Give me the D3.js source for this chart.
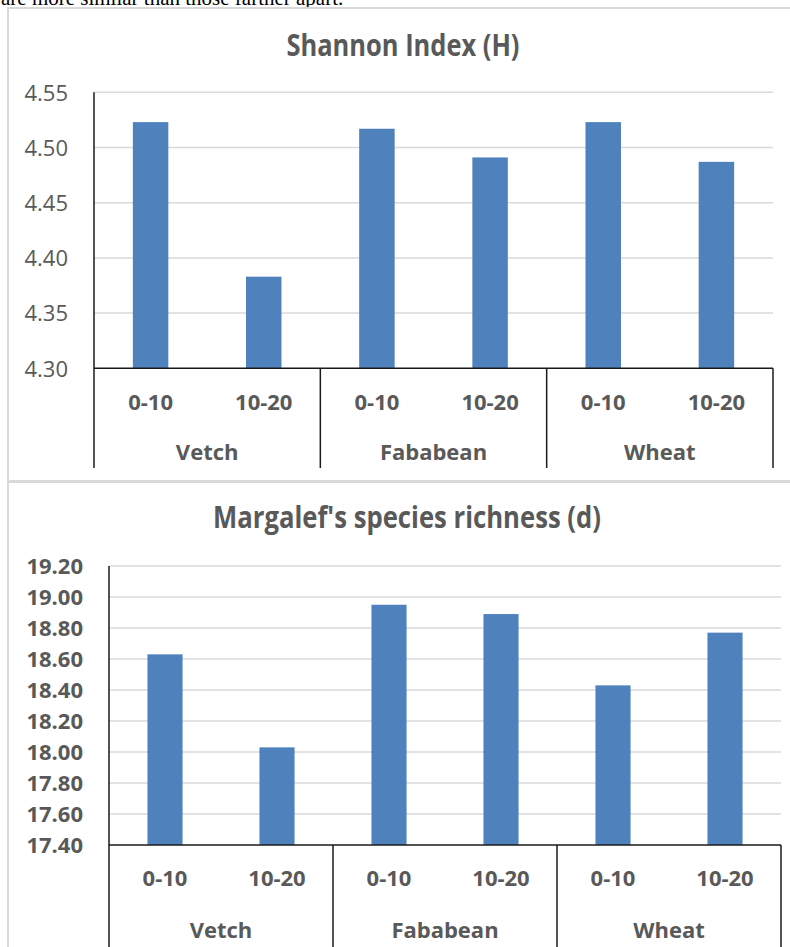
<!DOCTYPE html>
<html><head><meta charset="utf-8">
<script src="https://cdn.jsdelivr.net/npm/d3@7"></script>
<style>
html,body{margin:0;padding:0;background:#fff;}
svg{display:block;}
</style></head>
<body>
<svg id="c" width="790" height="947"></svg>
<script>
// ---------- data ----------
const introText = "are more similar than those farther apart.";
const depths = ["0-10", "10-20", "0-10", "10-20", "0-10", "10-20"];
const crops = ["Vetch", "Fababean", "Wheat"];
const shannonTitle = "Shannon Index (H)";
const shannonValues = [4.523, 4.383, 4.517, 4.491, 4.523, 4.487];
const shannonTicks = [4.30, 4.35, 4.40, 4.45, 4.50, 4.55];
const margalefTitle = "Margalef's species richness (d)";
const margalefValues = [18.63, 18.03, 18.95, 18.89, 18.43, 18.77];
const margalefTicks = [17.40, 17.60, 17.80, 18.00, 18.20, 18.40, 18.60, 18.80, 19.00, 19.20];

// ---------- styles ----------
const FONT = "'Open Sans', Calibri, sans-serif";
const TXT = "#595959";
const BAR = "#4f81bd";
const GRID = "#d9d9d9";
const AXIS = "#1a1a1a";

const svg = d3.select("#c");

// partial line of body text at top (cut off, as in the source page)
svg.append("text").attr("x", 1).attr("y", 5)
  .attr("font-family", "'Liberation Serif', 'Times New Roman', serif")
  .attr("font-size", 21).attr("fill", "#000")
  .text(introText);

function fitText(sel, w) {
  sel.attr("textLength", w).attr("lengthAdjust", "spacingAndGlyphs");
}

function drawChart(o) {
  const g = svg.append("g");
  g.append("rect").attr("x", o.panel[0]).attr("y", o.panel[1])
    .attr("width", o.panel[2]).attr("height", o.panel[3])
    .attr("fill", "#fff").attr("stroke", GRID).attr("stroke-width", 2);

  const y = d3.scaleLinear().domain(o.domain).range([o.y0, o.y1]);
  const x = d3.scaleBand().domain(d3.range(o.values.length)).range([o.x0, o.x1]).padding(0);
  const step = x.step();
  const bw = step / 3.19;

  const t = g.append("text").attr("x", o.titleX).attr("y", o.titleY)
    .attr("text-anchor", "middle").attr("font-family", FONT).attr("font-weight", 700)
    .attr("font-size", 31).attr("fill", TXT).text(o.title);
  fitText(t, o.titleW);

  g.append("g").selectAll("line").data(o.ticks.filter(d => d !== o.domain[0])).join("line")
    .attr("x1", o.x0).attr("x2", o.x1)
    .attr("y1", d => y(d)).attr("y2", d => y(d))
    .attr("stroke", GRID).attr("stroke-width", 1.5);

  const ya = g.append("g").attr("transform", `translate(${o.x0},0)`)
    .call(d3.axisLeft(y).tickValues(o.ticks).tickFormat(d3.format(".2f")).tickSize(0).tickPadding(26));
  ya.select(".domain").remove();
  ya.selectAll("text").attr("font-family", FONT).attr("font-size", 22)
    .attr("font-weight", o.tickBold ? 700 : 400).attr("fill", TXT).attr("dy", "0.35em");

  g.append("g").selectAll("rect").data(o.values).join("rect")
    .attr("x", (d, i) => x(i) + step / 2 - bw / 2)
    .attr("width", bw)
    .attr("y", d => y(d))
    .attr("height", d => y(o.domain[0]) - y(d))
    .attr("fill", BAR);

  const ax = g.append("g").attr("stroke", AXIS).attr("stroke-width", 1.5);
  ax.append("line").attr("x1", o.x0).attr("x2", o.x0).attr("y1", o.y1).attr("y2", o.axisBottom);
  ax.append("line").attr("x1", o.x0).attr("x2", o.x1).attr("y1", o.y0).attr("y2", o.y0);
  const nG = crops.length, per = o.values.length / nG;
  for (let k = 1; k <= nG; k++) {
    const xx = x(k * per - 1) + step;
    ax.append("line").attr("x1", xx).attr("x2", xx).attr("y1", o.y0).attr("y2", o.axisBottom);
  }

  g.append("g").selectAll("text").data(depths).join("text")
    .attr("x", (d, i) => x(i) + step / 2).attr("y", o.lab1Y)
    .attr("dy", "0.35em").attr("text-anchor", "middle")
    .attr("font-family", FONT).attr("font-weight", 700).attr("font-size", 22)
    .attr("fill", TXT).text(d => d);
  g.append("g").selectAll("text").data(crops).join("text")
    .attr("x", (d, k) => x(k * per) + step * per / 2).attr("y", o.lab2Y)
    .attr("dy", "0.35em").attr("text-anchor", "middle")
    .attr("font-family", FONT).attr("font-weight", 700).attr("font-size", 22)
    .attr("fill", TXT).text(d => d);
}

drawChart({
  panel: [8, 8, 800, 473],
  title: shannonTitle, titleX: 403, titleY: 56, titleW: 233,
  values: shannonValues, ticks: shannonTicks, domain: [4.30, 4.55],
  x0: 94, x1: 773, y0: 368.3, y1: 92.3, axisBottom: 468,
  tickBold: false, lab1Y: 402, lab2Y: 452
});

drawChart({
  panel: [8, 482, 800, 500],
  title: margalefTitle, titleX: 407, titleY: 528, titleW: 388,
  values: margalefValues, ticks: margalefTicks, domain: [17.40, 19.20],
  x0: 109, x1: 781, y0: 845, y1: 566, axisBottom: 960,
  tickBold: true, lab1Y: 878, lab2Y: 930
});
</script>
</body></html>
